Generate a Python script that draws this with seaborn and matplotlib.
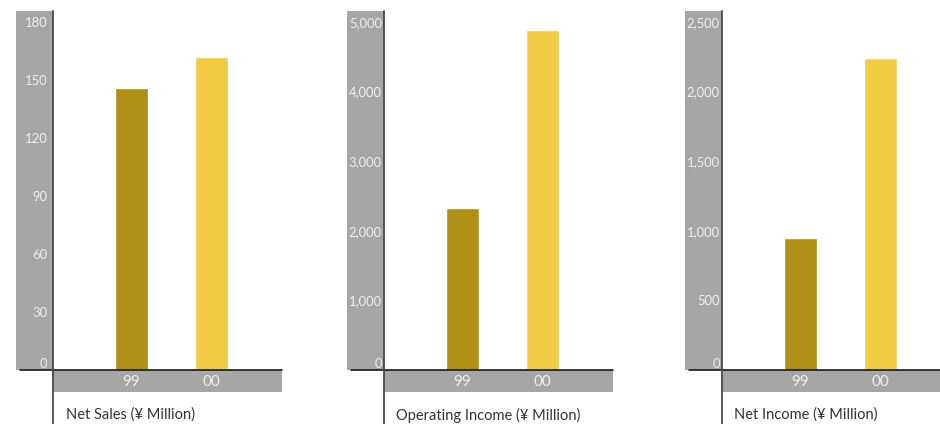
import matplotlib
matplotlib.use("Agg")
import matplotlib.pyplot as plt
from matplotlib.patches import Rectangle
import pandas as pd
import seaborn as sns

# Fiscal years and the three financial series (¥ Million)
years = ["99", "00"]
net_sales = [146, 162]
operating_income = [2332, 4885]
net_income = [946, 2239]

titles = ["Net Sales (¥ Million)", "Operating Income (¥ Million)", "Net Income (¥ Million)"]
tick_steps = [30, 1000, 500]
tick_maxes = [180, 5000, 2500]

bar_colors = ["#b08f17", "#f2cc45"]
band_color = "#a6a6a6"
tick_color = "#eeeeee"
title_color = "#333333"

sns.set_style("white")
plt.rcParams["font.family"] = ["Lato", "DejaVu Sans"]

W, H = 940, 424
fig = plt.figure(figsize=(W / 100, H / 100), dpi=100)

zero_y = 370          # pixel row of the value axis baseline
top_y = 11            # pixel row of the top of the plot area
plot_w = 229          # pixel width of each plot area
lefts = [53, 384, 722]
band_w = 37
xband_h = 22
line_left = 33
label_pads = [4, 1.5, 1.5]

series = [net_sales, operating_income, net_income]
plot_h = zero_y - top_y

for i, values in enumerate(series):
    ax = fig.add_axes([lefts[i] / W, (H - zero_y) / H, plot_w / W, plot_h / H])
    df = pd.DataFrame({"year": years, "value": values})
    sns.barplot(data=df, x="year", y="value", hue="year", palette=bar_colors,
                width=0.41, saturation=1, legend=False, ax=ax, zorder=3)

    top_val = tick_maxes[i]
    ymax = top_val * plot_h / (zero_y - 22)
    ax.set_ylim(0, ymax)
    ax.set_xlim(-0.979, 1.884)

    for s in ax.spines.values():
        s.set_visible(False)
    ax.set_xlabel("")
    ax.set_ylabel("")

    ticks = list(range(0, top_val + 1, tick_steps[i]))
    ax.set_yticks(ticks)
    ax.set_yticklabels([f"{t:,}" for t in ticks])
    ax.tick_params(axis="y", length=0, pad=label_pads[i], labelcolor=tick_color, labelsize=9.4)
    ax.tick_params(axis="x", length=0, pad=3.5, labelcolor=tick_color, labelsize=11)
    ax.get_yticklabels()[0].set_verticalalignment("bottom")
    ax.grid(False)

    # grey band behind the value labels
    ax.add_patch(Rectangle((-band_w / plot_w, 0), band_w / plot_w, 1, transform=ax.transAxes,
                           facecolor=band_color, edgecolor="none", clip_on=False, zorder=0))
    # grey band behind the year labels
    ax.add_patch(Rectangle((0, -xband_h / plot_h), 1, xband_h / plot_h, transform=ax.transAxes,
                           facecolor=band_color, edgecolor="none", clip_on=False, zorder=0))
    # baseline and vertical axis
    ax.plot([-line_left / plot_w, 1], [0, 0], transform=ax.transAxes, color="#1a1a1a",
            lw=1.2, clip_on=False, zorder=5)
    ax.plot([0, 0], [1, -(H - zero_y) / plot_h], transform=ax.transAxes, color="#4a4a4a",
            lw=1.3, clip_on=False, zorder=5)

    ax.text(12.5 / plot_w, -(415 - zero_y) / plot_h, titles[i], transform=ax.transAxes,
            ha="left", va="center", fontsize=10.5, color=title_color)

fig.savefig("out.png", dpi=100)
